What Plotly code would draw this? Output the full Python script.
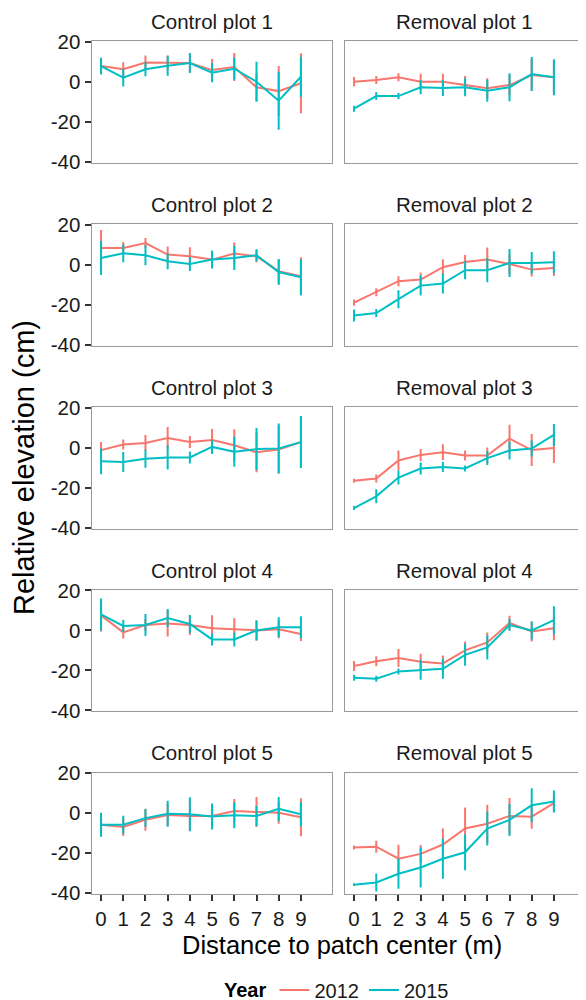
import plotly.graph_objects as go

distance = [0, 1, 2, 3, 4, 5, 6, 7, 8, 9]
years = ["2012", "2015"]
colors = {"2012": "#F8766D", "2015": "#00BFC4"}

panel_titles = ["Control plot 1", "Removal plot 1",
                "Control plot 2", "Removal plot 2",
                "Control plot 3", "Removal plot 3",
                "Control plot 4", "Removal plot 4",
                "Control plot 5", "Removal plot 5"]

# mean elevation (cm) per panel and year
c1_2012 = [7.8, 6.2, 9.6, 9.6, 9.3, 5.8, 7.3, -2.8, -4.7, -0.8]
c1_2015 = [7.8, 2.0, 6.2, 8.0, 9.3, 4.5, 6.5, 0.0, -9.5, 2.5]
r1_2012 = [0.0, 0.8, 2.2, 0.0, 0.0, -1.7, -3.3, -1.7, 3.3, 2.2]
r1_2015 = [-13.5, -7.2, -7.2, -2.8, -3.2, -2.8, -4.5, -2.8, 3.8, 2.2]
c2_2012 = [8.3, 8.3, 10.8, 5.0, 4.2, 2.5, 5.5, 4.2, -3.3, -5.8]
c2_2015 = [3.3, 5.7, 4.7, 1.7, 0.3, 2.5, 3.3, 4.7, -3.7, -6.3]
r2_2012 = [-19.0, -13.8, -8.3, -7.5, -1.3, 1.3, 2.5, 0.3, -2.5, -1.7]
r2_2015 = [-25.5, -24.2, -17.3, -10.5, -9.5, -2.8, -2.8, 0.8, 0.8, 1.2]
c3_2012 = [-1.3, 1.5, 2.3, 4.7, 2.7, 3.7, 1.1, -2.4, -1.0, 2.7]
c3_2015 = [-6.9, -7.3, -5.6, -5.0, -5.0, 0.3, -2.1, -0.8, -0.5, 2.7]
r3_2012 = [-16.6, -15.5, -6.5, -3.7, -2.4, -4.0, -4.0, 4.4, -1.3, -0.2]
r3_2015 = [-30.3, -24.4, -15.0, -10.5, -9.7, -10.5, -5.3, -1.5, -0.5, 6.3]
c4_2012 = [7.5, -1.0, 2.7, 3.5, 2.7, 1.1, 0.6, 0.0, 0.6, -1.8]
c4_2015 = [8.0, 2.2, 2.7, 6.2, 3.2, -4.5, -4.5, 0.0, 1.6, 1.6]
r4_2012 = [-17.8, -15.4, -13.8, -15.7, -16.5, -10.0, -6.0, 3.8, -0.5, 1.1]
r4_2015 = [-23.7, -24.2, -20.5, -19.7, -19.2, -12.2, -8.5, 2.7, 0.0, 5.1]
c5_2012 = [-5.7, -6.8, -3.2, -0.8, -1.3, -1.3, 1.1, 0.6, 0.3, -2.0]
c5_2015 = [-5.7, -5.7, -2.4, -0.2, -0.5, -1.6, -1.0, -1.3, 2.2, -0.5]
r5_2012 = [-17.1, -16.7, -22.7, -20.3, -15.6, -7.6, -5.2, -1.3, -1.7, 5.1]
r5_2015 = [-35.7, -34.6, -30.2, -27.1, -22.7, -19.5, -7.6, -3.3, 4.0, 5.9]

# standard errors (cm)
c1_2012_se = [4.0, 3.5, 3.5, 3.5, 4.5, 5.5, 7.0, 7.0, 12.5, 15.0]
c1_2015_se = [4.2, 4.4, 3.5, 5.0, 5.0, 4.8, 5.5, 10.0, 14.5, 10.0]
r1_2012_se = [2.3, 2.0, 2.0, 4.0, 4.0, 4.5, 5.0, 5.0, 8.0, 8.0]
r1_2015_se = [1.5, 2.0, 1.5, 3.5, 4.0, 4.5, 5.5, 7.0, 8.5, 9.0]
c2_2012_se = [9.0, 3.0, 2.5, 4.0, 4.5, 4.0, 5.5, 3.0, 6.0, 9.5]
c2_2015_se = [8.5, 4.5, 5.0, 4.0, 3.5, 4.5, 6.0, 3.0, 6.5, 9.0]
r2_2012_se = [1.5, 2.0, 2.5, 3.5, 4.0, 3.5, 6.0, 5.0, 3.5, 4.0]
r2_2015_se = [3.0, 2.0, 4.5, 5.0, 5.0, 4.5, 6.0, 7.0, 5.5, 5.5]
c3_2012_se = [4.0, 2.5, 4.0, 5.5, 3.0, 5.5, 8.0, 10.0, 12.0, 13.0]
c3_2015_se = [6.5, 5.0, 4.5, 6.0, 3.0, 3.5, 7.5, 10.5, 12.5, 13.0]
r3_2012_se = [1.0, 2.0, 5.0, 3.0, 4.0, 2.5, 4.0, 7.0, 8.0, 7.5]
r3_2015_se = [1.0, 3.5, 3.5, 3.0, 2.5, 1.5, 3.5, 4.5, 4.0, 5.5]
c4_2012_se = [8.0, 3.0, 3.0, 6.5, 5.0, 6.5, 5.5, 5.0, 4.5, 3.5]
c4_2015_se = [8.0, 3.0, 5.5, 4.5, 4.5, 3.0, 3.5, 5.0, 5.0, 5.5]
r4_2012_se = [2.5, 2.5, 4.5, 4.0, 4.0, 4.5, 5.0, 3.5, 5.0, 6.0]
r4_2015_se = [1.5, 1.5, 1.5, 5.0, 5.0, 5.5, 6.0, 3.0, 4.5, 7.0]
c5_2012_se = [5.5, 4.5, 5.5, 5.5, 7.5, 5.0, 6.0, 7.5, 5.5, 9.5]
c5_2015_se = [6.0, 4.5, 4.5, 6.5, 8.5, 6.5, 6.5, 5.0, 6.0, 6.0]
r5_2012_se = [1.0, 3.0, 7.0, 4.5, 8.0, 10.5, 9.5, 9.0, 6.0, 4.0]
r5_2015_se = [0.7, 4.5, 7.5, 10.0, 10.0, 9.0, 8.5, 8.0, 8.5, 5.5]

panels = [
    (c1_2012, c1_2012_se, c1_2015, c1_2015_se),
    (r1_2012, r1_2012_se, r1_2015, r1_2015_se),
    (c2_2012, c2_2012_se, c2_2015, c2_2015_se),
    (r2_2012, r2_2012_se, r2_2015, r2_2015_se),
    (c3_2012, c3_2012_se, c3_2015, c3_2015_se),
    (r3_2012, r3_2012_se, r3_2015, r3_2015_se),
    (c4_2012, c4_2012_se, c4_2015, c4_2015_se),
    (r4_2012, r4_2012_se, r4_2015, r4_2015_se),
    (c5_2012, c5_2012_se, c5_2015, c5_2015_se),
    (r5_2012, r5_2012_se, r5_2015, r5_2015_se),
]

# the page body has an 8px margin, so the figure is offset by 8px
OFF = 8
W, H = 578, 1000
FONT = "Liberation Sans, Arial, sans-serif"


def px(xp):
    return (xp - OFF) / W


def py(yp):
    return 1 - (yp - OFF) / H


col_px = [(91.5, 332.0), (344.5, 585.0)]
row_top0, row_step, row_h = 41.3, 182.9, 121.4
y_range = [-40.5, 20.2]
x_range = [-0.43, 10.4]

fig = go.Figure()
layout = {}
annotations = []
for i, (m12, s12, m15, s15) in enumerate(panels):
    r, c = divmod(i, 2)
    n = i + 1
    xa = "x" if n == 1 else f"x{n}"
    ya = "y" if n == 1 else f"y{n}"
    for yr, m, s in (("2012", m12, s12), ("2015", m15, s15)):
        fig.add_trace(go.Scatter(
            x=distance, y=m, mode="lines", name=yr,
            line=dict(color=colors[yr], width=2),
            error_y=dict(type="data", array=s, visible=True, width=0,
                         thickness=2, color=colors[yr]),
            showlegend=(i == 0), legendgroup=yr,
            xaxis=xa, yaxis=ya))
    x0, x1 = col_px[c]
    top = row_top0 + r * row_step
    bot = top + row_h
    xdom = [px(x0), px(x1)]
    ydom = [py(bot), py(top)]
    last_row = (r == 4)
    layout["xaxis" if n == 1 else f"xaxis{n}"] = dict(
        domain=xdom, range=x_range, anchor=ya, showgrid=False, zeroline=False,
        showline=True, mirror=True, linecolor="#9a9a9a", linewidth=1,
        tickmode="array", tickvals=distance, ticktext=[str(d) for d in distance],
        ticks="outside" if last_row else "", ticklen=6, tickwidth=1.5, tickcolor="#333333",
        showticklabels=last_row, tickfont=dict(size=20.5, color="#1a1a1a", family=FONT))
    layout["yaxis" if n == 1 else f"yaxis{n}"] = dict(
        domain=ydom, range=y_range, anchor=xa, showgrid=False, zeroline=False,
        showline=True, mirror=True, linecolor="#9a9a9a", linewidth=1,
        tickmode="array", tickvals=[-40, -20, 0, 20], ticktext=["-40", "-20", "0", "20"],
        ticks="outside" if c == 0 else "", ticklen=6, tickwidth=1.5, tickcolor="#333333",
        showticklabels=(c == 0), tickfont=dict(size=20.5, color="#1a1a1a", family=FONT))
    annotations.append(dict(
        text=panel_titles[i], x=px((x0 + x1) / 2), y=py(top - 20),
        xref="paper", yref="paper", xanchor="center", yanchor="middle",
        showarrow=False, font=dict(size=20.5, color="#1a1a1a", family=FONT)))

annotations.append(dict(
    text="Distance to patch center (m)", x=px(342), y=py(945),
    xref="paper", yref="paper", xanchor="center", yanchor="middle",
    showarrow=False, font=dict(size=25.5, color="black", family=FONT)))
annotations.append(dict(
    text="Relative elevation (cm)", x=px(24), y=py(468), textangle=-90,
    xref="paper", yref="paper", xanchor="center", yanchor="middle",
    showarrow=False, font=dict(size=29, color="black", family=FONT)))

fig.update_layout(
    **layout,
    annotations=annotations,
    width=W, height=H,
    margin=dict(l=0, r=0, t=0, b=0, autoexpand=False),
    plot_bgcolor="white", paper_bgcolor="white",
    font=dict(family=FONT),
    legend=dict(orientation="h", x=px(338), xanchor="center", y=py(990),
                yanchor="middle", title=dict(text="<b>Year</b>", side="left",
                                             font=dict(size=20, color="black")),
                font=dict(size=20, color="#1a1a1a"), itemwidth=30,
                bgcolor="rgba(0,0,0,0)"),
)

fig.write_html("out.html")
